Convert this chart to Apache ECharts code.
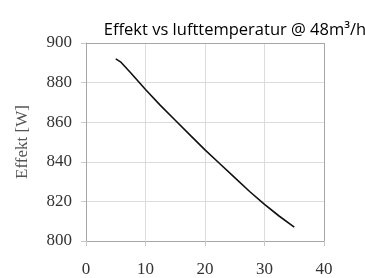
<!DOCTYPE html>
<html>
<head>
<meta charset="utf-8">
<script src="https://cdn.jsdelivr.net/npm/echarts@6/dist/echarts.min.js"></script>
<style>
  html, body { margin: 0; padding: 0; background: #fff; }
  #chart { width: 365px; height: 278px; }
</style>
</head>
<body>
<div id="chart"></div>
<script>
// lufttemperatur (x) and effekt in W (y)
const temps = [5, 5.8, 7.5, 10, 12.5, 15, 17.5, 20, 22.5, 25, 27.5, 30, 32.5, 35];
const effekt = [892, 890.5, 885, 876.5, 868.5, 861, 853.5, 846, 839, 832, 825, 818.5, 812.5, 807];

const xTicks = [0, 10, 20, 30, 40];
const yTicks = [800, 820, 840, 860, 880, 900];

const chart = echarts.init(document.getElementById('chart'));

const serif = '"Liberation Serif", "DejaVu Serif", serif';

const option = {
  animation: false,
  title: {
    text: 'Effekt vs lufttemperatur @ 48m³/h',
    left: 230,
    textAlign: 'center',
    top: 17,
    textStyle: {
      fontFamily: '"Open Sans", sans-serif',
      fontSize: 16.5,
      fontWeight: 'normal',
      color: '#000'
    }
  },
  grid: { left: 86, right: 41, top: 43, bottom: 35 },
  xAxis: {
    type: 'value',
    min: xTicks[0],
    max: xTicks[xTicks.length - 1],
    interval: 10,
    axisLine: { show: true, lineStyle: { color: '#a6a6a6' } },
    axisTick: { show: true, length: 5, lineStyle: { color: '#c8c8c8' } },
    axisLabel: { fontFamily: serif, fontSize: 17, color: '#333', margin: 20 },
    splitLine: { show: true, lineStyle: { color: '#dcdcdc' } }
  },
  yAxis: {
    type: 'value',
    min: yTicks[0],
    max: yTicks[yTicks.length - 1],
    interval: 20,
    name: 'Effekt [W]',
    nameLocation: 'middle',
    nameGap: 55,
    nameTextStyle: { fontFamily: serif, fontSize: 17, color: '#555' },
    axisLine: { show: true, lineStyle: { color: '#a6a6a6' } },
    axisTick: { show: true, length: 5, lineStyle: { color: '#c8c8c8' } },
    axisLabel: { fontFamily: serif, fontSize: 17, color: '#333', margin: 14 },
    splitLine: { show: true, lineStyle: { color: '#dcdcdc' } }
  },
  series: [
    {
      type: 'line',
      data: temps.map((t, i) => [t, effekt[i]]),
      showSymbol: false,
      lineStyle: { color: '#111', width: 1.6 }
    },
    {
      // plot frame on top/right
      type: 'line',
      data: [],
      markLine: {
        silent: true,
        symbol: 'none',
        label: { show: false },
        lineStyle: { color: '#a6a6a6', type: 'solid', width: 1 },
        data: [{ xAxis: 40 }, { yAxis: 900 }]
      }
    }
  ]
};

chart.setOption(option);
</script>
</body>
</html>
